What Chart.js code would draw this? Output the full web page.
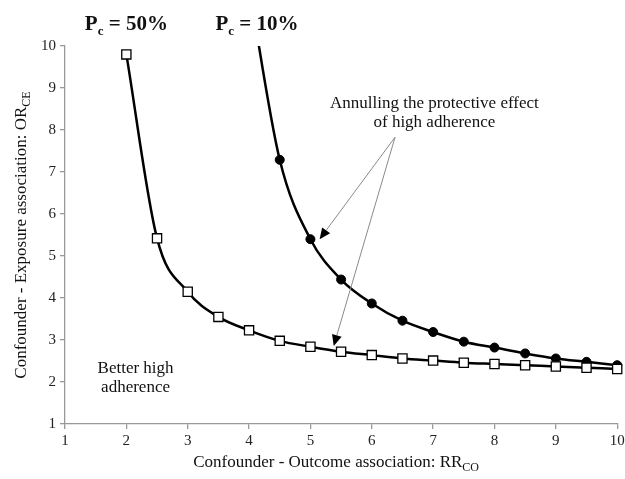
<!DOCTYPE html>
<html>
<head>
<meta charset="utf-8">
<script src="https://cdn.jsdelivr.net/npm/chart.js@4.4.1/dist/chart.umd.min.js"></script>
<style>
html,body{margin:0;padding:0;background:#fff;}
#wrap{width:625px;height:479px;}
</style>
</head>
<body>
<div id="wrap"><canvas id="c" width="625" height="479"></canvas></div>
<script>
// ---- data ----
const rrCO50 = [2, 2.5, 3, 3.5, 4, 4.5, 5, 5.5, 6, 6.5, 7, 7.5, 8, 8.5, 9, 9.5, 10];
const orCE50 = [9.8, 5.42, 4.15, 3.55, 3.23, 2.98, 2.84, 2.72, 2.64, 2.56, 2.51, 2.46, 2.43, 2.40, 2.37, 2.34, 2.31];
const rrCO10 = [4, 4.5, 5, 5.5, 6, 6.5, 7, 7.5, 8, 8.5, 9, 9.5, 10];
const orCE10 = [11.4, 7.29, 5.40, 4.44, 3.87, 3.46, 3.19, 2.96, 2.82, 2.68, 2.56, 2.48, 2.40];
const markers10 = [false, true, true, true, true, true, true, true, true, true, true, true, true];
const xTicks = [1, 2, 3, 4, 5, 6, 7, 8, 9, 10];
const yTicks = [1, 2, 3, 4, 5, 6, 7, 8, 9, 10];
const seriesLabels = ["Pc = 50%", "Pc = 10%"];

const SERIF = "'Liberation Serif', 'Times New Roman', serif";

function pts(xs, ys){ return xs.map((x,i)=>({x:x, y:ys[i]})); }

// draw text made of [text, isSub] parts, anchored at center
function drawParts(ctx, parts, cx, cy, font, subFont, subDrop){
  let w = 0;
  const widths = parts.map(p=>{ ctx.font = p[1] ? subFont : font; const m = ctx.measureText(p[0]).width; w += m; return m; });
  let x = cx - w/2;
  ctx.textAlign = 'left';
  ctx.textBaseline = 'alphabetic';
  parts.forEach((p,i)=>{
    ctx.font = p[1] ? subFont : font;
    ctx.fillText(p[0], x, cy + (p[1] ? subDrop : 0));
    x += widths[i];
  });
}

function arrow(ctx, x0, y0, x1, y1){
  ctx.save();
  ctx.strokeStyle = '#8a8a8a';
  ctx.lineWidth = 1;
  const ang = Math.atan2(y1-y0, x1-x0);
  const L = 11, W = 5;
  const bx = x1 - L*Math.cos(ang), by = y1 - L*Math.sin(ang);
  ctx.beginPath(); ctx.moveTo(x0,y0); ctx.lineTo(bx,by); ctx.stroke();
  ctx.fillStyle = '#000';
  ctx.beginPath();
  ctx.moveTo(x1,y1);
  ctx.lineTo(bx + W*Math.sin(ang), by - W*Math.cos(ang));
  ctx.lineTo(bx - W*Math.sin(ang), by + W*Math.cos(ang));
  ctx.closePath(); ctx.fill();
  ctx.restore();
}

const annot = {
  id: 'annot',
  afterDraw(chart){
    const ctx = chart.ctx;
    const xs = chart.scales.x, ys = chart.scales.y;
    const X = v => xs.getPixelForValue(v), Y = v => ys.getPixelForValue(v);
    ctx.save();
    ctx.fillStyle = '#111';
    // series titles above the curves
    drawParts(ctx, [["P",0],["c",1],[" = 50%",0]], X(2), 30, "bold 21px "+SERIF, "bold 13px "+SERIF, 5);
    drawParts(ctx, [["P",0],["c",1],[" = 10%",0]], X(4.13), 30, "bold 21px "+SERIF, "bold 13px "+SERIF, 5);
    // annotations
    ctx.font = "17px "+SERIF; ctx.textAlign='center'; ctx.textBaseline='middle';
    ctx.fillText("Annulling the protective effect", X(7.02), Y(8.64));
    ctx.fillText("of high adherence", X(7.02), Y(8.17));
    ctx.fillText("Better high", X(2.15), Y(2.33));
    ctx.fillText("adherence", X(2.15), Y(1.88));
    arrow(ctx, X(6.38), Y(7.83), X(5.15), Y(5.40));
    arrow(ctx, X(6.38), Y(7.83), X(5.38), Y(2.86));
    // axis titles
    ctx.fillStyle = '#111';
    drawParts(ctx, [["Confounder - Outcome association: RR",0],["CO",1]], (xs.left+xs.right)/2 - 5, 467, "17px "+SERIF, "12px "+SERIF, 4);
    ctx.save();
    ctx.translate(26, (ys.top+ys.bottom)/2);
    ctx.rotate(-Math.PI/2);
    drawParts(ctx, [["Confounder - Exposure association: OR",0],["CE",1]], 0, 0, "17px "+SERIF, "12px "+SERIF, 4);
    ctx.restore();
    ctx.restore();
  }
};

const clipBox = { left: 10, top: 0, right: 10, bottom: 10 };

new Chart(document.getElementById('c'), {
  type: 'line',
  data: {
    datasets: [
      {
        label: seriesLabels[0],
        data: pts(rrCO50, orCE50),
        clip: clipBox,
        borderColor: '#000', borderWidth: 2.5,
        pointStyle: 'rect', pointRadius: 6.5, pointBorderWidth: 1.3,
        pointBackgroundColor: '#fff', pointBorderColor: '#000',
        cubicInterpolationMode: 'monotone', fill: false
      },
      {
        label: seriesLabels[1],
        data: pts(rrCO10, orCE10),
        clip: clipBox,
        borderColor: '#000', borderWidth: 2.5,
        pointStyle: 'circle', pointRadius: markers10.map(m => m ? 4.5 : 0),
        pointBackgroundColor: '#000', pointBorderColor: '#000', pointBorderWidth: 1,
        cubicInterpolationMode: 'monotone', fill: false
      }
    ]
  },
  options: {
    responsive: false, animation: false, devicePixelRatio: 1,
    layout: { padding: { left: 0, top: 46, right: 5, bottom: 0 } },
    plugins: { legend: { display: false }, tooltip: { enabled: false }, title: { display: false } },
    scales: {
      x: {
        type: 'linear', min: 1, max: 10,
        afterBuildTicks: s => { s.ticks = xTicks.map(v => ({value: v})); },
        afterFit: s => { s.height = 55; s.paddingLeft = 0; s.paddingRight = 0; },
        border: { color: '#999', width: 1.3 },
        grid: { drawOnChartArea: false, drawTicks: true, tickLength: 5, color: '#999', lineWidth: 1.3 },
        ticks: { color: '#222', font: { family: SERIF, size: 15 }, padding: 3, maxRotation: 0 }
      },
      y: {
        type: 'linear', min: 1, max: 10,
        afterBuildTicks: s => { s.ticks = yTicks.map(v => ({value: v})); },
        afterFit: s => { s.width = 65; s.paddingTop = 0; s.paddingBottom = 0; },
        border: { color: '#999', width: 1.3 },
        grid: { drawOnChartArea: false, drawTicks: true, tickLength: 5, color: '#999', lineWidth: 1.3 },
        ticks: { color: '#222', font: { family: SERIF, size: 15 }, padding: 4 }
      }
    }
  },
  plugins: [annot]
});
</script>
</body>
</html>
